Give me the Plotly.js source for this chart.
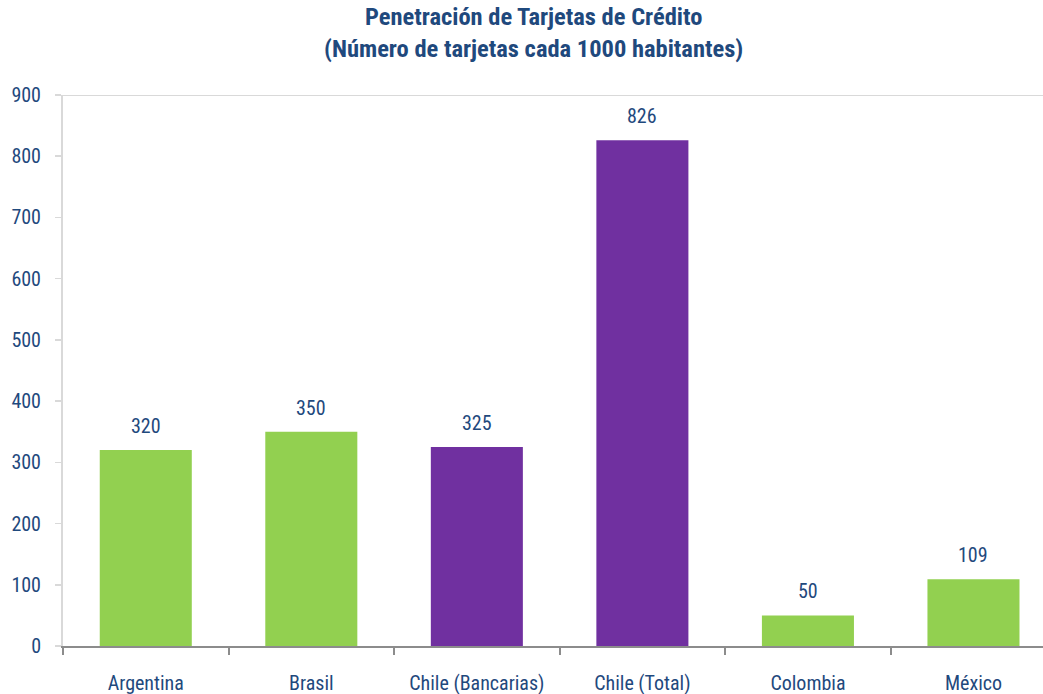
<!DOCTYPE html>
<html>
<head>
<meta charset="utf-8">
<script src="https://cdn.plot.ly/plotly-3.0.1.min.js"></script>
<style>html,body{margin:0;padding:0;background:#fff;}#chart{width:1043px;height:694px;}</style>
</head>
<body>
<div id="chart"></div>
<script>
var categories = ["Argentina", "Brasil", "Chile (Bancarias)", "Chile (Total)", "Colombia", "México"];
var values = [320, 350, 325, 826, 50, 109];
var barColors = ["#92D050", "#92D050", "#7030A0", "#7030A0", "#92D050", "#92D050"];
var yTicks = [0, 100, 200, 300, 400, 500, 600, 700, 800, 900];
var titleText = "<b>Penetración de Tarjetas de Crédito<br>(Número de tarjetas cada 1000 habitantes)</b>";

var FONT = "'Liberation Sans Narrow', 'Arial Narrow', 'Roboto Condensed', sans-serif";
var TXT = "#1F497D";

var trace = {
  type: "bar",
  x: categories,
  y: values,
  marker: {color: barColors, line: {width: 0}},
  hoverinfo: "none"
};

var annotations = categories.map(function(c, i) {
  return {
    x: c, y: values[i], xref: "x", yref: "y",
    text: String(values[i]),
    showarrow: false, yanchor: "bottom", yshift: 10,
    font: {family: FONT, size: 20, color: TXT}
  };
});
annotations.push({
  xref: "paper", yref: "paper", x: 0.48, y: 1, xanchor: "center", yanchor: "top",
  yshift: 95, showarrow: false, text: titleText,
  font: {family: FONT, size: 24.5, color: TXT}
});

var layout = {
  width: 1043, height: 694,
  margin: {l: 63, r: 0, t: 95, b: 48},
  paper_bgcolor: "#fff", plot_bgcolor: "#fff",
  bargap: 0.444,
  showlegend: false,
  xaxis: {
    type: "category",
    range: [-0.5, 5.42],
    showline: true, linecolor: "#8c8c8c", linewidth: 2,
    ticks: "outside", tickson: "boundaries", ticklen: 7, tickwidth: 2, tickcolor: "#8c8c8c",
    showgrid: false, zeroline: false,
    tickfont: {family: FONT, size: 20, color: TXT},
    ticklabelstandoff: 18,
    fixedrange: true
  },
  yaxis: {
    range: [0, 900],
    tickvals: yTicks,
    ticktext: yTicks.map(String),
    showline: true, linecolor: "#d9d9d9", linewidth: 2,
    ticks: "outside", ticklen: 6, tickwidth: 1.5, tickcolor: "#d9d9d9",
    showgrid: false, zeroline: false,
    tickfont: {family: FONT, size: 20, color: TXT},
    ticklabelstandoff: 10,
    fixedrange: true
  },
  shapes: [{
    type: "line", xref: "paper", yref: "y", x0: -0.006, x1: 1, y0: 900, y1: 900,
    line: {color: "#d9d9d9", width: 2}
  }],
  annotations: annotations
};

Plotly.newPlot("chart", [trace], layout, {displayModeBar: false, staticPlot: true});
</script>
</body>
</html>
